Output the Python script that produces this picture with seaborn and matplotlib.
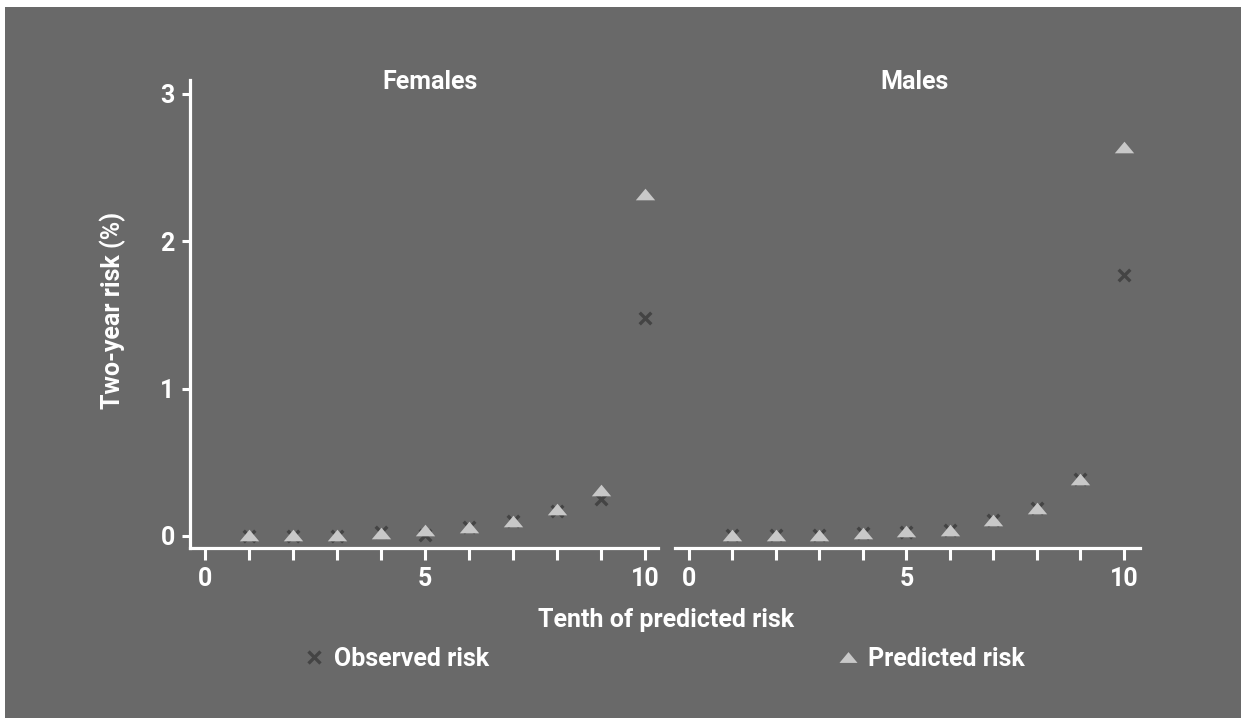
import matplotlib
matplotlib.use("Agg")
import matplotlib.pyplot as plt
from matplotlib.patches import Rectangle
from matplotlib.path import Path
from matplotlib.lines import Line2D
import numpy as np
import pandas as pd
import seaborn as sns

# Calibration by tenth of predicted risk (two-year risk, %)
tenths = [1, 2, 3, 4, 5, 6, 7, 8, 9, 10]
female_observed = [0.00, 0.00, 0.00, 0.03, 0.01, 0.06, 0.10, 0.17, 0.25, 1.48]
female_predicted = [0.01, 0.01, 0.01, 0.02, 0.04, 0.06, 0.10, 0.18, 0.31, 2.32]
male_observed = [0.01, 0.01, 0.01, 0.02, 0.03, 0.04, 0.11, 0.19, 0.39, 1.77]
male_predicted = [0.01, 0.01, 0.01, 0.02, 0.035, 0.04, 0.11, 0.19, 0.39, 2.64]
panels = ["Females", "Males"]
y_ticks = [0, 1, 2, 3]
x_ticks = list(range(11))
x_ticklabels = ["0", "", "", "", "", "5", "", "", "", "", "10"]

BG = "#696969"
OBS_COLOR = "#444444"
PRED_COLOR = "#c8c8c8"
FG = "white"

sns.set_theme(style="white")
plt.rcParams["font.family"] = ["Roboto", "DejaVu Sans"]
plt.rcParams["font.weight"] = "bold"

W, H = 1241, 718
fig = plt.figure(figsize=(W / 100, H / 100), dpi=100)
fig.patch.set_facecolor("white")
fig.patches.append(Rectangle((5 / W, 0), 1 - 5 / W, 1 - 7 / H, transform=fig.transFigure,
                             facecolor=BG, edgecolor="none", zorder=-10))

# squat triangle marker
tri = Path([(-1, -0.6), (1, -0.6), (0, 0.6), (-1, -0.6)],
           [Path.MOVETO, Path.LINETO, Path.LINETO, Path.CLOSEPOLY])

df = pd.concat([
    pd.DataFrame({"panel": "Females", "tenth": tenths, "obs": female_observed, "pred": female_predicted}),
    pd.DataFrame({"panel": "Males", "tenth": tenths, "obs": male_observed, "pred": male_predicted}),
])

def px(x0, x1, y0, y1):
    return [x0 / W, 1 - y1 / H, (x1 - x0) / W, (y1 - y0) / H]

axes_specs = {
    "Females": (px(190, 658, 80, 548), (-0.34, 10.3), 430),
    "Males": (px(675, 1140, 80, 548), (-0.32, 10.37), 915),
}
ylim = (-0.0815, 3.095)
TXT = 18

for name in panels:
    rect, xlim, title_x = axes_specs[name]
    ax = fig.add_axes(rect)
    ax.set_facecolor("none")
    ax.set_zorder(1)
    sub = df[df["panel"] == name]
    sns.scatterplot(data=sub, x="tenth", y="obs", marker="x", color=OBS_COLOR,
                    s=70, linewidth=2.4, ax=ax, zorder=3, legend=False)
    sns.scatterplot(data=sub, x="tenth", y="pred", marker=tri, color=PRED_COLOR,
                    s=195, linewidth=0, ax=ax, zorder=4, legend=False)
    ax.set_xlim(*xlim)
    ax.set_ylim(*ylim)
    ax.set_xticks(x_ticks)
    ax.set_xticklabels(x_ticklabels)
    ax.set_xlabel("")
    ax.set_ylabel("")
    for s in ["top", "right"]:
        ax.spines[s].set_visible(False)
    ax.spines["bottom"].set_color(FG)
    ax.spines["bottom"].set_linewidth(2.3)
    ax.tick_params(axis="x", direction="out", length=8.5, width=2.2, color=FG,
                   labelcolor=FG, labelsize=TXT, pad=5, bottom=True)
    if name == "Females":
        ax.spines["left"].set_color(FG)
        ax.spines["left"].set_linewidth(2.3)
        ax.set_yticks(y_ticks)
        ax.tick_params(axis="y", direction="out", length=6, width=2.2, color=FG,
                       labelcolor=FG, labelsize=TXT, pad=5, left=True)
    else:
        ax.spines["left"].set_visible(False)
        ax.set_yticks([])
    for lab in ax.get_xticklabels() + ax.get_yticklabels():
        lab.set_fontweight("bold")
    fig.text(title_x / W, 1 - 82 / H, name, ha="center", va="center",
             color=FG, fontsize=TXT, fontweight="bold")

fig.text(113 / W, 1 - 310 / H, "Two-year risk (%)", rotation=90, ha="center",
         va="center", color=FG, fontsize=TXT, fontweight="bold")
fig.text(666 / W, 1 - 620 / H, "Tenth of predicted risk", ha="center", va="center",
         color=FG, fontsize=TXT, fontweight="bold")

obs_handle = Line2D([], [], linestyle="none", marker="x", color=OBS_COLOR,
                    markersize=8, markeredgewidth=2.4)
pred_handle = Line2D([], [], linestyle="none", marker=tri, color=PRED_COLOR,
                     markersize=13, markeredgewidth=0)
for handle, label, xc in [(obs_handle, "Observed risk", 397), (pred_handle, "Predicted risk", 931)]:
    leg = fig.legend([handle], [label], loc="center", bbox_to_anchor=(xc / W, 1 - 659 / H),
                     frameon=False, handlelength=0.8, handletextpad=0.4,
                     borderpad=0, prop={"weight": "bold", "size": TXT})
    for t in leg.get_texts():
        t.set_color(FG)

fig.savefig("out.png", dpi=100, facecolor=fig.get_facecolor())
